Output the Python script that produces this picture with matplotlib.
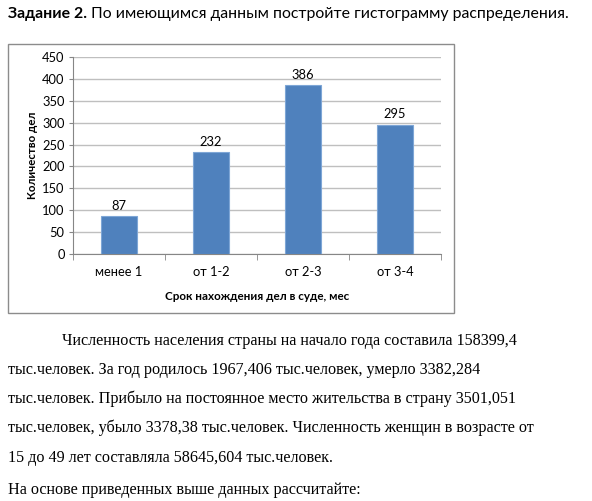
import matplotlib.pyplot as plt
from matplotlib.patches import Rectangle

W, H = 592, 501

categories = ["менее 1", "от 1-2", "от 2-3", "от 3-4"]
counts = [87, 232, 386, 295]
y_ticks = [0, 50, 100, 150, 200, 250, 300, 350, 400, 450]

title_bold = "Задание 2."
title_rest = "По имеющимся данным постройте гистограмму распределения."
x_label = "Срок нахождения дел в суде, мес"
y_label = "Количество дел"
paragraph = [
    "Численность населения страны на начало года составила 158399,4",
    "тыс.человек. За год родилось 1967,406 тыс.человек, умерло 3382,284",
    "тыс.человек. Прибыло на постоянное место жительства в страну 3501,051",
    "тыс.человек, убыло 3378,38 тыс.человек. Численность женщин в возрасте от",
    "15 до 49 лет составляла 58645,604 тыс.человек.",
    "На основе приведенных выше данных рассчитайте:",
]


def px(x, y):
    return x / W, 1 - y / H


fig = plt.figure(figsize=(W / 100, H / 100), dpi=100)
fig.patch.set_facecolor("white")

# title line, bold part then regular part
sans = ["Lato", "DejaVu Sans"]
t1 = fig.text(*px(8, 14), title_bold, fontsize=11.4, fontweight="bold",
              family=sans, va="center", ha="left")
fig.canvas.draw()
bb = t1.get_window_extent()
fig.text((bb.x1 + 4) / W, 1 - 14 / H, title_rest, fontsize=11.4,
         family=sans, va="center", ha="left")

# chart frame
fig.patches.append(Rectangle(px(8, 313), 446 / W, 269 / H, transform=fig.transFigure,
                             fill=False, edgecolor="#8c8c8c", linewidth=1))

ax = fig.add_axes([73 / W, (H - 254) / H, 368 / W, 197 / H])
x = range(len(categories))
bars = ax.bar(x, counts, width=0.4, color="#4f81bd", edgecolor="#7ea6d6", linewidth=0.8, zorder=3)
for xi, v in zip(x, counts):
    ax.text(xi, v + 10, str(v), ha="center", va="bottom", fontsize=9.3, family=sans)

ax.set_xlim(-0.5, len(categories) - 0.5)
ax.set_ylim(0, 450)
ax.set_yticks(y_ticks)
ax.set_yticklabels([str(t) for t in y_ticks], fontsize=9.3, family=sans)
ax.set_xticks(list(x))
ax.set_xticklabels(categories, fontsize=9.3, family=sans)
ax.tick_params(axis="x", length=0, pad=9)
ax.tick_params(axis="y", length=3, color="#868686", pad=3)
ax.set_xticks([i - 0.5 for i in range(len(categories) + 1)], minor=True)
ax.tick_params(axis="x", which="minor", length=4, color="#868686")
ax.grid(axis="y", color="#bfbfbf", linewidth=1, zorder=0)
for s in ["top", "right"]:
    ax.spines[s].set_visible(False)
ax.spines["left"].set_color("#868686")
ax.spines["bottom"].set_color("#868686")

ax.set_xlabel(x_label, fontsize=8.4, fontweight="bold", family=sans, labelpad=9)
ax.set_ylabel(y_label, fontsize=8.3, fontweight="bold", family=sans, labelpad=3)

# paragraph below the chart
serif = ["Liberation Serif", "DejaVu Serif"]
line_y = [341, 370, 399, 428, 458, 490]
for i, (line, ly) in enumerate(zip(paragraph, line_y)):
    lx = 62 if i == 0 else 8
    fig.text(*px(lx, ly), line, fontsize=11.6, family=serif, va="center", ha="left")

fig.savefig("out.png", dpi=100)
